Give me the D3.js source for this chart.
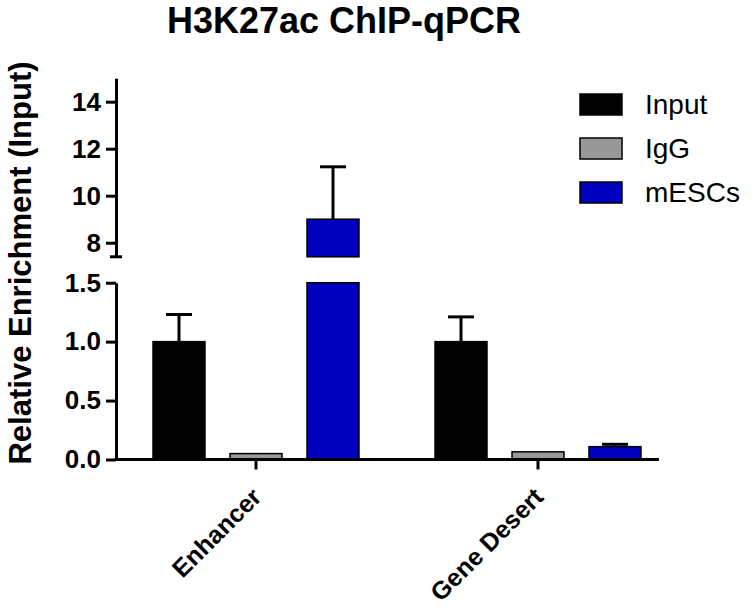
<!DOCTYPE html>
<html>
<head>
<meta charset="utf-8">
<script src="https://cdn.jsdelivr.net/npm/d3@7"></script>
<style>
  body { margin: 0; background: #fff; }
  svg text { font-family: Arial, "Liberation Sans", sans-serif; fill: #000; }
</style>
</head>
<body>
<svg id="chart" width="754" height="611"></svg>
<script>
// data
var categories = ["Enhancer", "Gene Desert"];
var series = ["Input", "IgG", "mESCs"];
var colors = ["#000000", "#999999", "#0000c0"];
var inputMean = [1.0, 1.0];
var inputErr = [0.23, 0.21];
var iggMean = [0.05, 0.065];
var iggErr = [0, 0];
var mescMean = [9.0, 0.109];
var mescErr = [2.23, 0.02];
var upperTicks = [8, 10, 12, 14];
var lowerTicks = [0, 0.5, 1.0, 1.5];

var means = [inputMean, iggMean, mescMean];
var errs = [inputErr, iggErr, mescErr];

var rows = [];
series.forEach(function (s, i) {
    categories.forEach(function (c, j) {
        rows.push({ series: s, cat: c, value: means[i][j], err: errs[i][j], color: colors[i] });
    });
});

var svg = d3.select("#chart");
var axisX = 116;

// two y scales for the broken axis
var yTop = d3.scaleLinear().domain([7.4, 15]).range([256.8, 78.2]);
var yBot = d3.scaleLinear().domain([0, 1.5]).range([459.5, 282.7]);

var x0 = d3.scaleBand().domain(categories).range([115, 679]);
var x1 = d3.scaleBand().domain(series)
    .range([x0.bandwidth() / 2 - 115.5, x0.bandwidth() / 2 + 115.5])
    .paddingInner(0.325).paddingOuter(0.1625);

// title
svg.append("text")
    .attr("x", 344).attr("y", 33)
    .attr("text-anchor", "middle")
    .attr("font-size", 36).attr("font-weight", "bold")
    .text("H3K27ac ChIP-qPCR");

// y axis title
svg.append("text")
    .attr("transform", "translate(31,263) rotate(-90)")
    .attr("text-anchor", "middle")
    .attr("font-size", 31).attr("font-weight", "bold")
    .text("Relative Enrichment (Input)");

// bars
var bars = svg.append("g");
rows.forEach(function (d) {
    var bx = x0(d.cat) + x1(d.series);
    var bw = x1.bandwidth();
    if (d.value > 1.5) {
        bars.append("rect")
            .attr("x", bx).attr("width", bw)
            .attr("y", yTop(d.value)).attr("height", yTop.range()[0] - yTop(d.value))
            .attr("fill", d.color).attr("stroke", "#000").attr("stroke-width", 1.5);
        bars.append("rect")
            .attr("x", bx).attr("width", bw)
            .attr("y", yBot(1.5)).attr("height", yBot(0) - yBot(1.5))
            .attr("fill", d.color).attr("stroke", "#000").attr("stroke-width", 1.5);
    } else {
        bars.append("rect")
            .attr("x", bx).attr("width", bw)
            .attr("y", yBot(d.value)).attr("height", yBot(0) - yBot(d.value))
            .attr("fill", d.color).attr("stroke", "#000").attr("stroke-width", 1.5);
    }
    if (d.err > 0) {
        var y = d.value > 1.5 ? yTop : yBot;
        var cx = bx + bw / 2;
        bars.append("line")
            .attr("x1", cx).attr("x2", cx)
            .attr("y1", y(d.value)).attr("y2", y(d.value + d.err))
            .attr("stroke", "#000").attr("stroke-width", 3);
        bars.append("line")
            .attr("x1", cx - 13).attr("x2", cx + 13)
            .attr("y1", y(d.value + d.err)).attr("y2", y(d.value + d.err))
            .attr("stroke", "#000").attr("stroke-width", 3);
    }
});

// y axes
function drawY(scale, ticks, fmt) {
    var g = svg.append("g").attr("transform", "translate(" + axisX + ",0)")
        .call(d3.axisLeft(scale).tickValues(ticks).tickFormat(fmt).tickSize(10).tickSizeOuter(0));
    g.select(".domain").attr("stroke-width", 3);
    g.selectAll(".tick line").attr("stroke-width", 3);
    g.selectAll(".tick text")
        .attr("x", -15)
        .attr("font-size", 26).attr("font-weight", "bold")
        .attr("font-family", null);
    return g;
}
drawY(yTop, upperTicks, d3.format("d"));
drawY(yBot, lowerTicks, d3.format(".1f"));

// break mark at bottom of the upper segment
svg.append("line")
    .attr("x1", axisX - 6).attr("x2", axisX + 6)
    .attr("y1", yTop.range()[0]).attr("y2", yTop.range()[0])
    .attr("stroke", "#000").attr("stroke-width", 3);

// x axis
var gx = svg.append("g").attr("transform", "translate(0," + yBot(0) + ")");
gx.append("line")
    .attr("x1", axisX - 1.5).attr("x2", 659)
    .attr("stroke", "#000").attr("stroke-width", 3);
categories.forEach(function (c) {
    var cx = x0(c) + x0.bandwidth() / 2;
    gx.append("line")
        .attr("x1", cx).attr("x2", cx).attr("y1", 0).attr("y2", 10)
        .attr("stroke", "#000").attr("stroke-width", 3);
    gx.append("text")
        .attr("transform", "translate(" + (cx + 7) + ",39) rotate(-45)")
        .attr("text-anchor", "end")
        .attr("font-size", 25).attr("font-weight", "bold")
        .text(c);
});

// legend
var legend = svg.append("g").attr("transform", "translate(580,94)");
series.forEach(function (s, i) {
    var g = legend.append("g").attr("transform", "translate(0," + i * 44 + ")");
    g.append("rect")
        .attr("width", 42).attr("height", 21)
        .attr("fill", colors[i]).attr("stroke", "#000").attr("stroke-width", 1.5);
    g.append("text")
        .attr("x", 65).attr("y", 20)
        .attr("font-size", 28)
        .text(s);
});
</script>
</body>
</html>
